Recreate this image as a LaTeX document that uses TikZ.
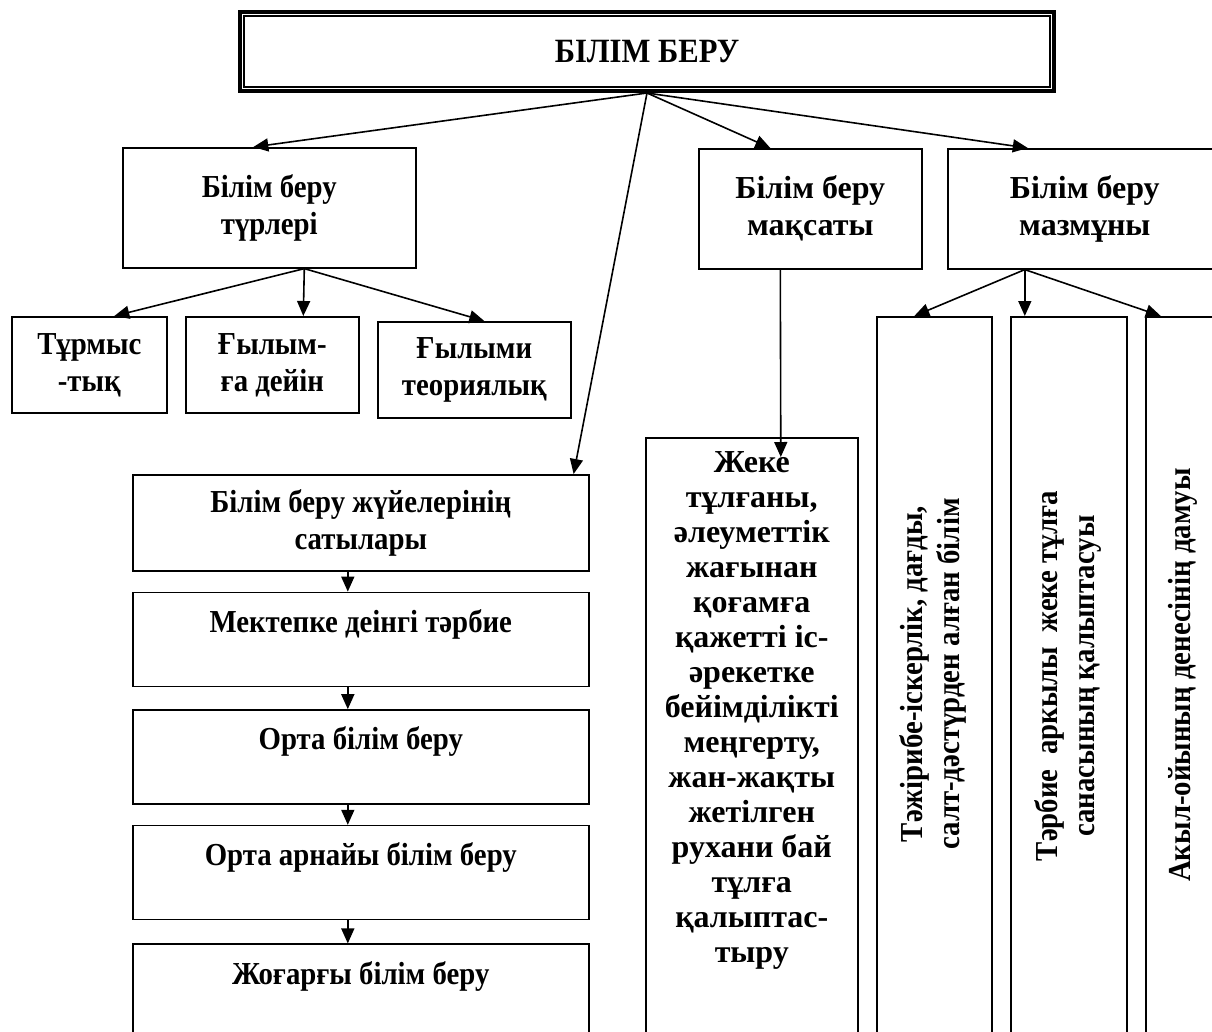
\documentclass[tikz,border=0pt]{standalone}
\usepackage{fontspec}
\setmainfont{Liberation Serif}
\newfontfamily\condfont[FakeStretch=0.9]{Liberation Serif}
\usetikzlibrary{positioning}
\usetikzlibrary{shapes.geometric, arrows.meta}
\tikzstyle{arrow} = [line width=1.6pt,-{Triangle[length=15pt,width=13pt]}]
\tikzstyle{box} = [draw,line width=1.6pt,inner sep=0pt,align=center,font=\bfseries\fontsize{32}{37}\selectfont]
\tikzstyle{txt} = [inner sep=0pt,align=center,font=\bfseries\fontsize{32}{35}\selectfont]
\tikzstyle{condtxt} = [font=\condfont\bfseries\fontsize{32}{37}\selectfont]

\begin{document}
\begin{tikzpicture}[x=1pt,y=-1pt]
				\clip (0,0) rectangle (1212,1031);
				%Nodes
				\node (top) [box,line width=4pt,anchor=north west,minimum width=814pt,minimum height=79pt,font=\condfont\bfseries\fontsize{34}{37}\selectfont] at (238,10) {БІЛІМ БЕРУ};
				\draw[line width=2pt] ([shift={(6pt,-6pt)}]top.north west) rectangle ([shift={(-6pt,6pt)}]top.south east);
				
				\node (turleri) [box,condtxt,anchor=north west,minimum width=293pt,minimum height=120pt] at (122,147) {Білім беру\\түрлері};
				\node (maksaty) [box,anchor=north west,minimum width=223pt,minimum height=120pt] at (698,148) {Білім беру\\мақсаты};
				\node (mazmuny) [box,anchor=north west,minimum width=274pt,minimum height=120pt] at (947,148) {Білім беру\\мазмұны};
				
				\node (turmys) [box,condtxt,anchor=north west,minimum width=155pt,minimum height=96pt] at (11,316) {Тұрмыс\\-тық};
				\node (gylym) [box,condtxt,anchor=north west,minimum width=173pt,minimum height=96pt] at (185,316) {Ғылым-\\ға дейін};
				\node (gylymi) [box,condtxt,anchor=north west,minimum width=193pt,minimum height=96pt] at (377,321) {Ғылыми\\теориялық};
				
				\node (satylary) [box,condtxt,anchor=north west,minimum width=456pt,minimum height=96pt] at (132,474) {Білім беру жүйелерінің\\сатылары};
				\node (mektep) [box,condtxt,minimum width=456pt,minimum height=94pt,below=20pt of satylary] {Мектепке деінгі тәрбие\\\mbox{}};
				\node (orta) [box,condtxt,minimum width=456pt,minimum height=94pt,below=22pt of mektep] {Орта білім беру\\\mbox{}};
				\node (arnaiy) [box,condtxt,minimum width=456pt,minimum height=94pt,below=20pt of orta] {Орта арнайы білім беру\\\mbox{}};
				\node (zhogary) [box,condtxt,minimum width=456pt,minimum height=94pt,below=23pt of arnaiy] {Жоғарғы білім беру\\\mbox{}};
				
				\node (zheke) [box,anchor=north west,minimum width=212pt,minimum height=700pt] at (645,437) {};
				\node (zheketxt) [txt,anchor=north] at ([yshift=-14pt]zheke.north) {Жеке\\тұлғаны,\\әлеуметтік\\жағынан\\қоғамға\\қажетті іс-\\әрекетке\\бейімділікті\\меңгерту,\\жан-жақты\\жетілген\\рухани бай\\тұлға\\қалыптас-\\тыру};
				
				\node (tall1) [box,anchor=north west,minimum width=115pt,minimum height=750pt] at (876,316) {};
				\node (tall2) [box,anchor=north west,minimum width=116pt,minimum height=750pt] at (1010,316) {};
				\node (tall3) [box,anchor=north west,minimum width=100pt,minimum height=750pt] at (1145,316) {};
				\node (tall1txt) [txt,condtxt,rotate=90] at (933,674) {Тәжірибе-іскерлік, дағды,\\салт-дәстүрден алған білім};
				\node (tall2txt) [txt,condtxt,rotate=90] at (1068,676) {Тәрбие\ \ аркылы\ \ жеке тұлға\\санасының қалыптасуы};
				\node (tall3txt) [txt,condtxt,rotate=90] at (1183,675) {Акыл-ойының денесінің дамуы};
				
				%Lines
				\draw[arrow] (top.south) -- ([xshift=-16pt]turleri.north);
				\draw[arrow] (top.south) -- ([xshift=-16pt]satylary.north east);
				\draw[arrow] (top.south) -- ([xshift=-40pt]maksaty.north);
				\draw[arrow] (top.south) -- ([xshift=-57pt]mazmuny.north);
				
				\draw[arrow] ([xshift=35pt]turleri.south) -- ([xshift=25pt]turmys.north);
				\draw[arrow] ([xshift=35pt]turleri.south) -- ([xshift=31pt]gylym.north);
				\draw[arrow] ([xshift=35pt]turleri.south) -- ([xshift=10pt]gylymi.north);
				
				\draw[arrow] ([xshift=-30pt]maksaty.south) -- ([xshift=29pt,yshift=-20pt]zheke.north);
				
				\draw[arrow] ([xshift=-60pt]mazmuny.south) -- ([xshift=-20pt]tall1.north);
				\draw[arrow] ([xshift=-60pt]mazmuny.south) -- ([xshift=-44pt]tall2.north);
				\draw[arrow] ([xshift=-60pt]mazmuny.south) -- ([xshift=-35pt]tall3.north);
				
				\foreach \a/\b in {satylary/mektep, mektep/orta, orta/arnaiy, arnaiy/zhogary}
					\draw[arrow] ([xshift=-13pt]\a.south) -- ([xshift=-13pt]\b.north);
\end{tikzpicture}
\end{document}
